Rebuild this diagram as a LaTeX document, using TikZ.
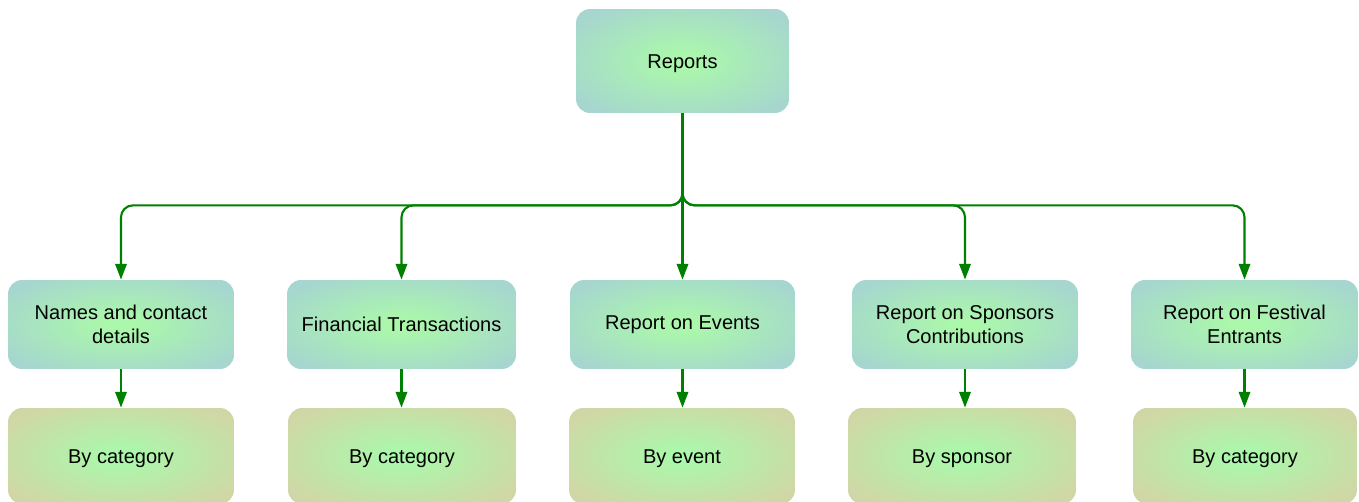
\documentclass[tikz,border=0pt]{standalone}
\usepackage{fontspec}
\setmainfont{Liberation Sans}
\usetikzlibrary{arrows.meta}

% box glows
\pgfdeclareradialshading{topglow}{\pgfpoint{0bp}{0bp}}{rgb(0bp)=(0.67,0.97,0.67); rgb(3bp)=(0.67,0.97,0.67); rgb(31bp)=(0.65,0.84,0.81); rgb(50bp)=(0.65,0.84,0.81)}
\pgfdeclareradialshading{lowglow}{\pgfpoint{0bp}{0bp}}{rgb(0bp)=(0.67,0.97,0.67); rgb(3bp)=(0.67,0.97,0.67); rgb(31bp)=(0.82,0.84,0.65); rgb(50bp)=(0.82,0.84,0.65)}

\begin{document}
\begin{tikzpicture}[x=0.02cm,y=-0.02cm,
    box/.style={rounded corners=0.28cm,align=center,inner sep=0pt,
        font=\fontsize{11.4}{13.6}\selectfont},
    topbox/.style={box,shading=topglow,minimum height=1.78cm},
    lowbox/.style={box,shading=lowglow,minimum height=1.92cm,
        text height=10.6pt,text depth=2.4pt},
    link/.style={draw={rgb,255:red,0;green,128;blue,0},line width=1.2pt,
        rounded corners=0.24cm,-{Triangle[length=9pt,width=6.5pt]}}]
    \useasboundingbox (0,0) rectangle (1359,502);
    % root
    \node[topbox,minimum width=4.26cm,minimum height=2.08cm,
        text height=10.6pt,text depth=2.4pt] (rep) at (682.5,61) {Reports};
    % second row
    \node[topbox,minimum width=4.52cm] (names) at (121,324.5) {Names and contact\\details};
    \node[topbox,minimum width=4.58cm] (fin) at (401.5,324.5) {Financial Transactions};
    \node[topbox,minimum width=4.50cm] (evt) at (682.5,324.5) {Report on Events};
    \node[topbox,minimum width=4.52cm] (spo) at (965,324.5) {Report on Sponsors\\Contributions};
    \node[topbox,minimum width=4.54cm] (fest) at (1244.5,324.5) {Report on Festival\\Entrants};
    % third row
    \node[lowbox,minimum width=4.52cm] (bycat1) at (121,456) {By category};
    \node[lowbox,minimum width=4.56cm] (bycat2) at (402,456) {By category};
    \node[lowbox,minimum width=4.52cm] (byevt) at (682,456) {By event};
    \node[lowbox,minimum width=4.56cm] (byspo) at (962,456) {By sponsor};
    \node[lowbox,minimum width=4.48cm] (bycat3) at (1245,456) {By category};
    % tree links
    \draw[link] (rep.south) -- ++(0,92) -| (names.north);
    \draw[link] (rep.south) -- ++(0,92) -| (fin.north);
    \draw[link] (rep.south) -- (evt.north);
    \draw[link] (rep.south) -- ++(0,92) -| (spo.north);
    \draw[link] (rep.south) -- ++(0,92) -| (fest.north);
    \draw[link] (names.south) -- (names.south |- bycat1.north);
    \draw[link] (fin.south) -- (fin.south |- bycat2.north);
    \draw[link] (evt.south) -- (evt.south |- byevt.north);
    \draw[link] (spo.south) -- (spo.south |- byspo.north);
    \draw[link] (fest.south) -- (fest.south |- bycat3.north);
\end{tikzpicture}
\end{document}
